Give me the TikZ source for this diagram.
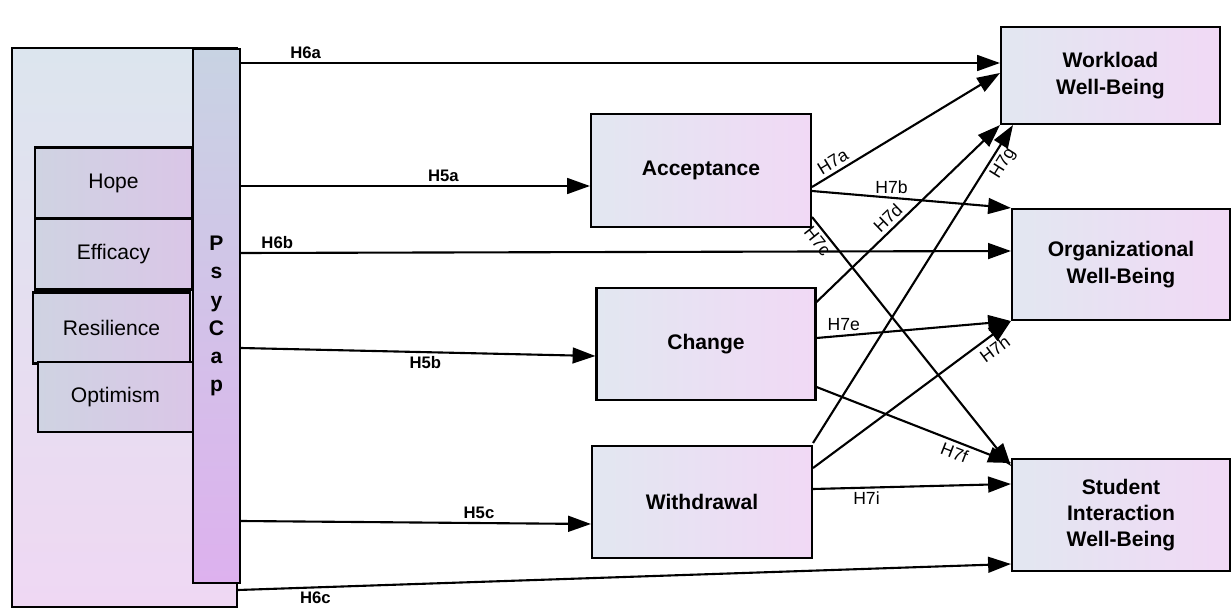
\documentclass[tikz,border=0pt]{standalone}
\usepackage{fontspec}
\setmainfont{Liberation Sans}
\usetikzlibrary{arrows.meta}
\definecolor{paleblue}{HTML}{E2E7F1}
\definecolor{palepink}{HTML}{F1D9F5}
\definecolor{outerblue}{HTML}{DCE5EE}
\definecolor{outerpink}{HTML}{EFD8F3}
\definecolor{barblue}{HTML}{C8D3E3}
\definecolor{barpurple}{HTML}{DDB1EE}
\definecolor{facetblue}{HTML}{CFD3E2}
\definecolor{facetpink}{HTML}{DAC6E7}
\tikzstyle{box} = [draw, left color=paleblue, right color=palepink, inner sep=0pt, align=center, font=\bfseries\fontsize{12}{15}\selectfont]
\tikzstyle{facet} = [draw, left color=facetblue, right color=facetpink, inner sep=0pt, font=\fontsize{12}{14}\selectfont]
\tikzstyle{hyp} = [font=\bfseries\fontsize{9.5}{11}\selectfont, inner sep=2pt]
\tikzstyle{sub} = [font=\fontsize{10}{12}\selectfont, inner sep=2pt]

\begin{document}
\begin{tikzpicture}[x=0.02cm,y=-0.02cm,line width=1.2pt,>={Triangle[length=13pt,width=9pt]}]
\useasboundingbox (0,0) rectangle (1231,611);

% PsyCap block
\node[draw, top color=outerblue, bottom color=outerpink, minimum width=4.5cm, minimum height=11.18cm] (psy) at (124.5,327.5) {};
\node[facet, minimum width=3.14cm, minimum height=1.42cm] (hope) at (113.5,183) {Hope};
\node[facet, minimum width=3.14cm, minimum height=1.42cm] (effi) at (113.5,254) {Efficacy};
\node[facet, minimum width=3.14cm, minimum height=1.42cm] (resi) at (111.5,328) {Resilience};
\node[facet, minimum width=3.1cm, minimum height=1.4cm] (opti) at (115.5,397) {Optimism};
\node[draw, top color=barblue, bottom color=barpurple, minimum width=0.94cm, minimum height=10.68cm, inner sep=0pt, align=center, font=\bfseries\fontsize{12}{16}\selectfont] (bar) at (216.5,316) {P\\s\\y\\C\\a\\p};

% coping
\node[box, minimum width=4.4cm, minimum height=2.26cm] (acc) at (701,170.5) {Acceptance};
\node[box, minimum width=4.38cm, minimum height=2.24cm] (chg) at (706,344) {Change};
\node[box, minimum width=4.4cm, minimum height=2.24cm] (wdr) at (702,502) {Withdrawal};

% well-being
\node[box, minimum width=4.38cm, minimum height=1.94cm] (wl) at (1110.5,75.5) {Workload\\Well-Being};
\node[box, minimum width=4.36cm, minimum height=2.22cm] (org) at (1121,264.5) {Organizational\\Well-Being};
\node[box, minimum width=4.36cm, minimum height=2.24cm] (stu) at (1121,515) {Student\\Interaction\\Well-Being};

\path[->]
(bar.east |- 0,63) edge node[hyp, above, pos=.085] {H6a} (wl.west |- 0,63)
(bar.east |- 0,186) edge node[hyp, above, pos=.58] {H5a} (acc.west |- 0,186)
(bar.east |- 0,253) edge node[hyp, above, pos=.047] {H6b} (org.west |- 0,251)
(bar.east |- 0,348) edge node[hyp, below, pos=.52] {H5b} (chg.west |- 0,356)
(bar.east |- 0,521) edge node[hyp, above, pos=.68] {H5c} (wdr.west |- 0,524)
(psy.east |- 0,590) edge node[hyp, below, pos=.1] {H6c} (stu.west |- 0,564);

\path[->]
(acc.east |- 0,187) edge node[sub, above, sloped, pos=.14] {H7a} (wl.west |- 0,73)
(acc.east |- 0,191) edge node[sub, above, pos=.4] {H7b} (org.north west)
(acc.east |- 0,217) edge node[sub, below, sloped, pos=.07] {H7c} (stu.west |- 0,466)
(chg.east |- 0,302) edge node[sub, above, sloped, pos=.43] {H7d} (wl.south west)
(chg.east |- 0,338) edge node[sub, above, pos=.14] {H7e} (org.south west)
(chg.east |- 0,387) edge node[sub, below, sloped, pos=.73] {H7f} (stu.west |- 0,463)
(wdr.east |- 0,443) edge node[sub, below, sloped, pos=.9] {H7g} (wl.south west -| 1013,0)
(wdr.east |- 0,468) edge node[sub, below=1pt, sloped, pos=.88] {H7h} (org.south west)
(wdr.east |- 0,489) edge node[sub, below, pos=.27] {H7i} (stu.west |- 0,484);
\end{tikzpicture}
\end{document}
